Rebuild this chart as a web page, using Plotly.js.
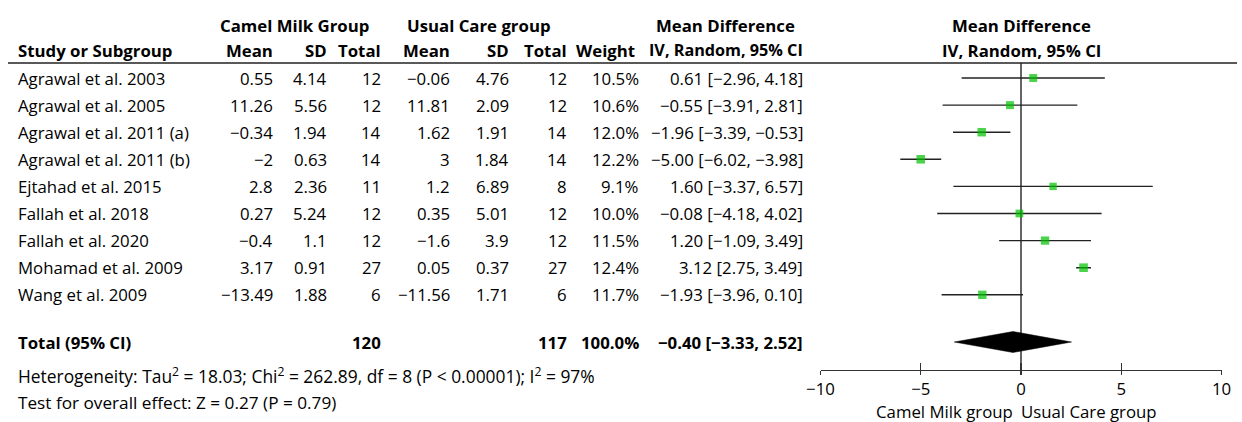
<!DOCTYPE html>
<html>
<head>
<meta charset="utf-8">
<script src="https://cdn.plot.ly/plotly-3.0.1.min.js"></script>
<style>html,body{margin:0;padding:0;background:#fff;}#chart{width:1242px;height:422px;}</style>
</head>
<body>
<div id="chart"></div>
<script>
// ---------- data ----------
const studies = ["Agrawal et al. 2003","Agrawal et al. 2005","Agrawal et al. 2011 (a)","Agrawal et al. 2011 (b)","Ejtahad et al. 2015","Fallah et al. 2018","Fallah et al. 2020","Mohamad et al. 2009","Wang et al. 2009"];
const camelMean = [0.55, 11.26, -0.34, -2, 2.8, 0.27, -0.4, 3.17, -13.49];
const camelSD   = [4.14, 5.56, 1.94, 0.63, 2.36, 5.24, 1.1, 0.91, 1.88];
const camelN    = [12, 12, 14, 14, 11, 12, 12, 27, 6];
const usualMean = [-0.06, 11.81, 1.62, 3, 1.2, 0.35, -1.6, 0.05, -11.56];
const usualSD   = [4.76, 2.09, 1.91, 1.84, 6.89, 5.01, 3.9, 0.37, 1.71];
const usualN    = [12, 12, 14, 14, 8, 12, 12, 27, 6];
const weight    = [10.5, 10.6, 12.0, 12.2, 9.1, 10.0, 11.5, 12.4, 11.7];
const md        = [0.61, -0.55, -1.96, -5.00, 1.60, -0.08, 1.20, 3.12, -1.93];
const ciLow     = [-2.96, -3.91, -3.39, -6.02, -3.37, -4.18, -1.09, 2.75, -3.96];
const ciHigh    = [4.18, 2.81, -0.53, -3.98, 6.57, 4.02, 3.49, 3.49, 0.10];
const totalCamelN = 120, totalUsualN = 117, totalWeight = 100.0;
const totalMD = -0.40, totalLow = -3.33, totalHigh = 2.52;
const heterogeneity = "Heterogeneity: Tau<sup>2</sup> = 18.03; Chi<sup>2</sup> = 262.89, df = 8 (P &lt; 0.00001); I<sup>2</sup> = 97%";
const overallTest = "Test for overall effect: Z = 0.27 (P = 0.79)";
const xTicks = [-10, -5, 0, 5, 10];
const favoursLeft = "Camel Milk group", favoursRight = "Usual Care group";

// ---------- layout constants (pixels) ----------
const W = 1242, H = 422;
const FONT = "Open Sans, Noto Sans, sans-serif";
const FS = 16.8;
const row0 = 78, rowStep = 27.1;
const rowY = studies.map((_, i) => row0 + i * rowStep);
const totalY = 342, hetY = 375, testY = 402;
const headY1 = 25, headY2 = 50, ruleY = 63, axisY = 370;
const col = {study: 17, cMean: 274, cSD: 328, cN: 382, uMean: 451, uSD: 510, uN: 568, w: 640, wHead: 636, ci: 804};
const xLeftPx = 820.5, xRightPx = 1221.5;

const fmt = v => String(v).replace(/-/g, "\u2212");
const fmt2 = v => v.toFixed(2).replace(/-/g, "\u2212");
const ciText = (m, l, h) => fmt2(m) + " [" + fmt2(l) + ", " + fmt2(h) + "]";

const ann = [];
function txt(text, px, y, anchor, bold, size) {
  ann.push({
    text: bold ? "<b>" + text + "</b>" : text,
    x: px / W, xref: "paper", y: y, yref: "y",
    xanchor: anchor, yanchor: "middle", showarrow: false,
    borderpad: 0,
    font: {family: FONT, size: size || FS, color: "#000"}
  });
}

// headers
txt("Camel Milk Group", 294, headY1, "center", true);
txt("Usual Care group", 479, headY1, "center", true);
txt("Mean Difference", 725, headY1, "center", true);
txt("Mean Difference", 1021, headY1, "center", true);
txt("Study or Subgroup", col.study, headY2, "left", true);
txt("Mean", col.cMean, headY2, "right", true);
txt("SD", col.cSD, headY2, "right", true);
txt("Total", col.cN, headY2, "right", true);
txt("Mean", col.uMean, headY2, "right", true);
txt("SD", col.uSD, headY2, "right", true);
txt("Total", col.uN, headY2, "right", true);
txt("Weight", col.wHead, headY2, "right", true);
txt("IV, Random, 95% CI", col.ci, headY2, "right", true, 16.2);
txt("IV, Random, 95% CI", 1021, headY2, "center", true);

// rows
studies.forEach((s, i) => {
  const y = rowY[i];
  txt(s, col.study, y, "left");
  txt(fmt(camelMean[i]), col.cMean, y, "right");
  txt(fmt(camelSD[i]), col.cSD, y, "right");
  txt(String(camelN[i]), col.cN, y, "right");
  txt(fmt(usualMean[i]), col.uMean, y, "right");
  txt(fmt(usualSD[i]), col.uSD, y, "right");
  txt(String(usualN[i]), col.uN, y, "right");
  txt(weight[i].toFixed(1) + "%", col.w, y, "right");
  txt(ciText(md[i], ciLow[i], ciHigh[i]), col.ci, y, "right");
});

// total
txt("Total (95% CI)", col.study, totalY, "left", true);
txt(String(totalCamelN), col.cN, totalY, "right", true);
txt(String(totalUsualN), col.uN, totalY, "right", true);
txt(totalWeight.toFixed(1) + "%", col.w, totalY, "right", true);
txt(ciText(totalMD, totalLow, totalHigh), col.ci, totalY, "right", true);
txt(heterogeneity, col.study, hetY, "left", false, 17.4);
txt(overallTest, col.study, testY, "left", false, 17.2);

// favours labels
txt(favoursLeft, 1014, 411, "right");
txt(favoursRight, 1020, 411, "left");

// ---------- traces ----------
const ciX = [], ciY = [];
studies.forEach((_, i) => { ciX.push(ciLow[i], ciHigh[i], null); ciY.push(rowY[i], rowY[i], null); });
const dh = 10.5;

const traces = [
  {type: "scatter", mode: "lines", x: ciX, y: ciY, line: {color: "#222", width: 1.4}, hoverinfo: "skip", cliponaxis: false},
  {type: "scatter", mode: "markers", x: md, y: rowY,
   marker: {symbol: "square", color: "#00c000", size: weight.map(w => 2.45 * Math.sqrt(w)), line: {width: 0}}, cliponaxis: false},
  {type: "scatter", mode: "lines", fill: "toself", fillcolor: "#000",
   x: [totalLow, totalMD, totalHigh, totalMD, totalLow],
   y: [totalY, totalY - dh, totalY, totalY + dh, totalY],
   line: {color: "#000", width: 0.5}, cliponaxis: false},
  {type: "scatter", mode: "markers", x: [0], y: [0], xaxis: "x2", marker: {opacity: 0}, hoverinfo: "skip"}
];

const xdom = [xLeftPx / W, xRightPx / W];
const layout = {
  width: W, height: H,
  margin: {l: 0, r: 0, t: 0, b: 0, pad: 0},
  paper_bgcolor: "#fff", plot_bgcolor: "rgba(0,0,0,0)",
  showlegend: false,
  font: {family: FONT, size: FS, color: "#000"},
  xaxis: {domain: xdom, range: [-10, 10], autorange: false, anchor: "free", position: (H - axisY) / H,
          showgrid: false, zeroline: false, showline: true, linecolor: "#333", linewidth: 1.2,
          tickmode: "array", tickvals: xTicks, ticktext: xTicks.map(fmt), ticks: "outside", ticklen: 4, tickwidth: 1.2, tickcolor: "#333",
          tickfont: {family: FONT, size: FS, color: "#000"}, fixedrange: true},
  xaxis2: {domain: xdom, range: [-10, 10], autorange: false, overlaying: "x", anchor: "free", position: (H - axisY) / H,
           showgrid: false, zeroline: false, showline: false, showticklabels: false,
           tickmode: "array", tickvals: xTicks, ticks: "inside", ticklen: 7, tickwidth: 1.2, tickcolor: "#333", fixedrange: true},
  yaxis: {domain: [0, 1], range: [H, 0], autorange: false, visible: false, showgrid: false, zeroline: false, fixedrange: true},
  shapes: [
    {type: "line", xref: "paper", yref: "y", x0: 8 / W, x1: 1237 / W, y0: ruleY, y1: ruleY, line: {color: "#222", width: 1.4}},
    {type: "line", xref: "x", yref: "y", x0: 0, x1: 0, y0: ruleY, y1: axisY, line: {color: "#111", width: 1.3}, layer: "below"}
  ],
  annotations: ann
};

Plotly.newPlot("chart", traces, layout, {staticPlot: true, displayModeBar: false});
</script>
</body>
</html>
